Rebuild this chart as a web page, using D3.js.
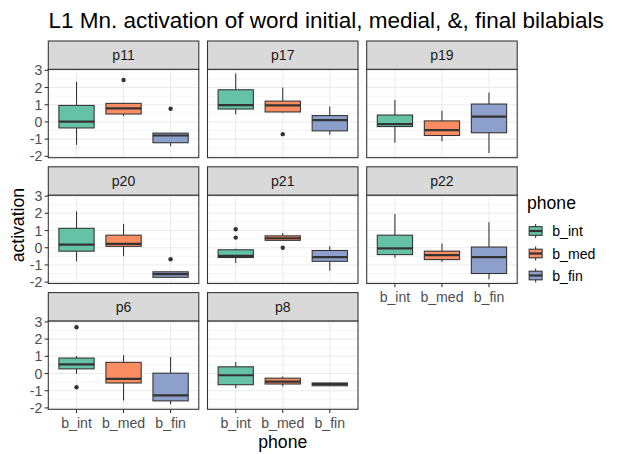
<!DOCTYPE html>
<html>
<head>
<meta charset="utf-8">
<script src="https://cdn.jsdelivr.net/npm/d3@7"></script>
<style>
  body { margin: 0; background: #fff; }
  svg { display: block; font-family: "Liberation Sans", Arial, sans-serif; }
</style>
</head>
<body>
<svg id="chart" width="619" height="454"></svg>
<script>
// ---------------- data ----------------
const panels = ["p11", "p17", "p19", "p20", "p21", "p22", "p6", "p8"];
const phones = ["b_int", "b_med", "b_fin"];
const yTicks = [-2, -1, 0, 1, 2, 3];
const colors = ["#66C2A5", "#FC8D62", "#8DA0CB"];

// per panel, per phone (b_int, b_med, b_fin)
const whiskerLow = [
  [-1.33, 0.33, -1.42], [0.44, 0.55, -0.75], [-1.21, -1.13, -1.81],
  [-0.79, -0.49, -1.74], [-0.89, 0.40, -1.34], [-0.59, -0.83, -1.84],
  [-0.02, -1.57, -1.78], [-0.86, -0.75, -0.73]
];
const q1 = [
  [-0.35, 0.46, -1.21], [0.75, 0.58, -0.52], [-0.27, -0.79, -0.63],
  [-0.20, 0.08, -1.72], [-0.57, 0.43, -0.79], [-0.40, -0.69, -1.50],
  [0.27, -0.55, -1.59], [-0.65, -0.61, -0.71]
];
const median = [
  [0.02, 0.79, -0.79], [0.98, 0.96, 0.10], [-0.13, -0.48, 0.31],
  [0.18, 0.22, -1.54], [-0.47, 0.55, -0.55], [-0.04, -0.43, -0.55],
  [0.53, -0.31, -1.27], [-0.10, -0.47, -0.61]
];
const q3 = [
  [0.96, 1.08, -0.65], [1.87, 1.21, 0.37], [0.40, 0.06, 1.04],
  [1.13, 0.73, -1.40], [-0.12, 0.69, -0.16], [0.73, -0.20, 0.04],
  [0.90, 0.65, 0.02], [0.39, -0.27, -0.55]
];
const whiskerHigh = [
  [2.33, 1.12, -0.65], [2.81, 2.00, 0.90], [1.27, 0.65, 1.71],
  [2.11, 1.38, -1.40], [-0.06, 0.85, 0.08], [1.96, 0.24, 1.48],
  [1.02, 1.06, 0.96], [0.67, -0.18, -0.53]
];
const outliers = [
  [[], [2.44], [0.77]],
  [[], [-0.71], []],
  [[], [], []],
  [[], [], [-0.67]],
  [[1.07, 0.59], [0.00], []],
  [[], [], []],
  [[2.69, -0.80], [], []],
  [[], [], []]
];

// ---------------- layout ----------------
const svg = d3.select("#chart");
const ncol = 3;
const panelW = 150.5, colPitch = 159.2, left0 = 48.3;
const stripTop0 = 41, rowPitch = 125.8, stripH = 28.3, panelH = 88.4;
const tickLen = 3.67;
const gridCol = "#EBEBEB", darkCol = "#333333", textCol = "#4D4D4D";
const tickFont = 14.1, stripFont = 14.1, axisTitleFont = 17.6, titleFont = 22.5;

const xPos = d3.scaleLinear().domain([0.4, 3.6]).range([0, panelW]);
const unitW = panelW / 3.2;
const boxW = 0.75 * unitW;
const yScale = d3.scaleLinear().domain([-2.08, 3.06]).range([panelH, 0]);

// title
svg.append("text").attr("x", 48.5).attr("y", 28)
  .attr("font-size", titleFont).attr("fill", "#000")
  .text("L1 Mn. activation of word initial, medial, &, final bilabials");

panels.forEach((p, i) => {
  const col = i % ncol, row = Math.floor(i / ncol);
  const px = left0 + col * colPitch;
  const sy = stripTop0 + row * rowPitch;
  const py = sy + stripH;
  const g = svg.append("g").attr("transform", `translate(${px},${py})`);

  g.append("rect").attr("width", panelW).attr("height", panelH).attr("fill", "#fff");
  const minor = d3.range(-1.5, 3.0, 1);
  g.selectAll(".minor").data(minor.filter(v => yScale(v) > 0 && yScale(v) < panelH)).enter()
    .append("line").attr("x1", 0).attr("x2", panelW)
    .attr("y1", d => yScale(d)).attr("y2", d => yScale(d))
    .attr("stroke", gridCol).attr("stroke-width", 0.55);
  g.selectAll(".majory").data(yTicks).enter().append("line")
    .attr("x1", 0).attr("x2", panelW)
    .attr("y1", d => yScale(d)).attr("y2", d => yScale(d))
    .attr("stroke", gridCol).attr("stroke-width", 1.07);
  g.selectAll(".majorx").data(phones).enter().append("line")
    .attr("x1", (d, j) => xPos(j + 1)).attr("x2", (d, j) => xPos(j + 1))
    .attr("y1", 0).attr("y2", panelH)
    .attr("stroke", gridCol).attr("stroke-width", 1.07);

  phones.forEach((ph, j) => {
    const cx = xPos(j + 1);
    const bg = g.append("g");
    bg.append("line").attr("x1", cx).attr("x2", cx)
      .attr("y1", yScale(whiskerHigh[i][j])).attr("y2", yScale(q3[i][j]))
      .attr("stroke", darkCol).attr("stroke-width", 1.07);
    bg.append("line").attr("x1", cx).attr("x2", cx)
      .attr("y1", yScale(q1[i][j])).attr("y2", yScale(whiskerLow[i][j]))
      .attr("stroke", darkCol).attr("stroke-width", 1.07);
    bg.append("rect").attr("x", cx - boxW / 2).attr("width", boxW)
      .attr("y", yScale(q3[i][j])).attr("height", yScale(q1[i][j]) - yScale(q3[i][j]))
      .attr("fill", colors[j]).attr("stroke", darkCol).attr("stroke-width", 1.07);
    bg.append("line").attr("x1", cx - boxW / 2).attr("x2", cx + boxW / 2)
      .attr("y1", yScale(median[i][j])).attr("y2", yScale(median[i][j]))
      .attr("stroke", darkCol).attr("stroke-width", 2.2);
    outliers[i][j].forEach(v => {
      bg.append("circle").attr("cx", cx).attr("cy", yScale(v)).attr("r", 2.2)
        .attr("fill", darkCol);
    });
  });

  g.append("rect").attr("width", panelW).attr("height", panelH)
    .attr("fill", "none").attr("stroke", darkCol).attr("stroke-width", 1.07);

  svg.append("rect").attr("x", px).attr("y", sy).attr("width", panelW).attr("height", stripH)
    .attr("fill", "#D9D9D9").attr("stroke", darkCol).attr("stroke-width", 1.07);
  svg.append("text").attr("x", px + panelW / 2).attr("y", sy + stripH / 2 + 5)
    .attr("text-anchor", "middle").attr("font-size", stripFont).attr("fill", "#1A1A1A").text(p);

  if (col === 0) {
    yTicks.forEach(t => {
      g.append("line").attr("x1", -tickLen).attr("x2", 0)
        .attr("y1", yScale(t)).attr("y2", yScale(t))
        .attr("stroke", darkCol).attr("stroke-width", 1.07);
      g.append("text").attr("x", -tickLen - 2.4).attr("y", yScale(t) + 5)
        .attr("text-anchor", "end").attr("font-size", tickFont).attr("fill", textCol).text(t);
    });
  }
  const isBottom = (i + ncol) >= panels.length;
  if (isBottom) {
    phones.forEach((ph, j) => {
      const cx = xPos(j + 1);
      g.append("line").attr("x1", cx).attr("x2", cx)
        .attr("y1", panelH).attr("y2", panelH + tickLen)
        .attr("stroke", darkCol).attr("stroke-width", 1.07);
      g.append("text").attr("x", cx).attr("y", panelH + tickLen + 2.6 + 12.5)
        .attr("text-anchor", "middle").attr("font-size", tickFont).attr("fill", textCol).text(ph);
    });
  }
});

const plotTop = stripTop0, plotBottom = stripTop0 + 2 * rowPitch + stripH + panelH;
svg.append("text")
  .attr("transform", `translate(${24},${(plotTop + plotBottom) / 2}) rotate(-90)`)
  .attr("text-anchor", "middle").attr("font-size", axisTitleFont).attr("fill", "#000").text("activation");
svg.append("text").attr("x", left0 + (2 * colPitch + panelW) / 2).attr("y", 447.5)
  .attr("text-anchor", "middle").attr("font-size", axisTitleFont).attr("fill", "#000").text("phone");

// legend
const lgX = 527, keyS = 17.28;
const lgKeys = [231, 253.5, 275.5];
svg.append("text").attr("x", lgX).attr("y", 209).attr("font-size", axisTitleFont).attr("fill", "#000").text("phone");
phones.forEach((ph, j) => {
  const cy = lgKeys[j];
  const cx = lgX + keyS / 2;
  const lg = svg.append("g");
  lg.append("line").attr("x1", cx).attr("x2", cx)
    .attr("y1", cy - keyS * 0.4).attr("y2", cy + keyS * 0.4)
    .attr("stroke", darkCol).attr("stroke-width", 1.07);
  lg.append("rect").attr("x", lgX + keyS * 0.125).attr("width", keyS * 0.75)
    .attr("y", cy - keyS * 0.25).attr("height", keyS * 0.5)
    .attr("fill", colors[j]).attr("stroke", darkCol).attr("stroke-width", 1.07);
  lg.append("line").attr("x1", lgX + keyS * 0.125).attr("x2", lgX + keyS * 0.875)
    .attr("y1", cy).attr("y2", cy).attr("stroke", darkCol).attr("stroke-width", 2.2);
  lg.append("text").attr("x", lgX + keyS + 8).attr("y", cy + 5)
    .attr("font-size", tickFont).attr("fill", "#000").text(ph);
});
</script>
</body>
</html>
